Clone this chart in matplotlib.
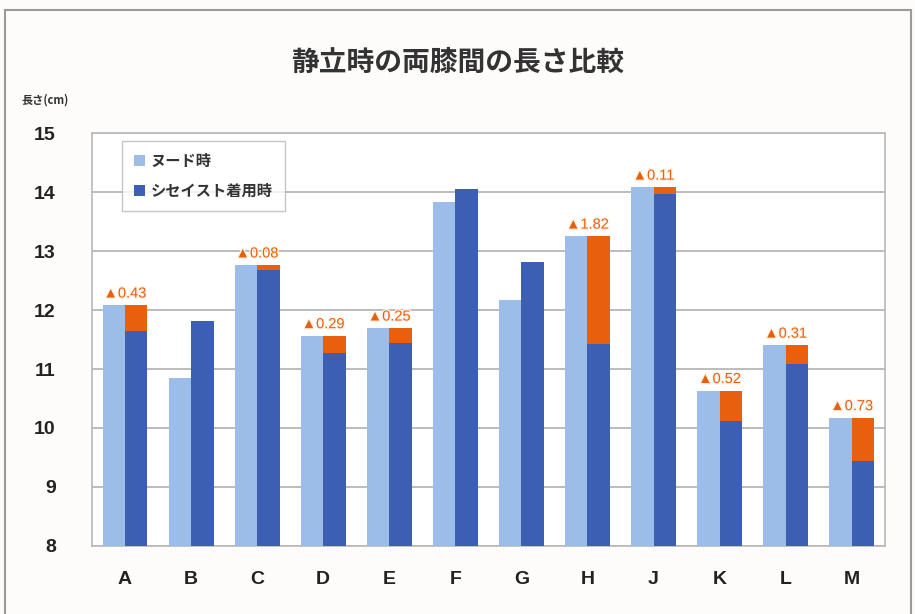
import matplotlib.pyplot as plt
import numpy as np
from matplotlib.patches import Rectangle
import matplotlib.patheffects as pe

plt.rcParams['font.family'] = ['Noto Sans CJK JP', 'DejaVu Sans']

subjects = ["A", "B", "C", "D", "E", "F", "G", "H", "J", "K", "L", "M"]
nude = [12.08, 10.85, 12.76, 11.56, 11.69, 13.83, 12.17, 13.25, 14.08, 10.63, 11.40, 10.17]
seishist = [11.65, 11.81, 12.68, 11.27, 11.44, 14.05, 12.81, 11.43, 13.97, 10.11, 11.09, 9.44]
# reduction labels shown only where the garment made the gap smaller
reduction = [0.43, None, 0.08, 0.29, 0.25, None, None, 1.82, 0.11, 0.52, 0.31, 0.73]

light = "#9dbde9"
dark = "#3c5fb4"
orange = "#e8600e"

fig = plt.figure(figsize=(9.15, 6.14), dpi=100)
fig.patch.set_facecolor("#fdfcfa")
fig.patches.append(Rectangle((0.006, -0.01), 0.99, 0.994, transform=fig.transFigure,
                             fill=False, ec="#9a9a9a", lw=1.5))

ax = fig.add_axes([0.1005, 0.111, 0.8665, 0.672])
ax.set_facecolor("white")

x = np.arange(len(subjects))
w = 0.34
ax.bar(x - w / 2, nude, w, color=light, label="ヌード時", zorder=3)
ax.bar(x + w / 2, seishist, w, color=dark, label="シセイスト着用時", zorder=3)

for i, r in enumerate(reduction):
    if r is None:
        continue
    ax.bar(x[i] + w / 2, nude[i] - seishist[i], w, bottom=seishist[i],
           color=orange, zorder=3)
    ax.text(x[i], nude[i] + 0.2, "▲%.2f" % r, ha="center", va="center",
            fontsize=10.5, color=orange, zorder=4,
            family=["Liberation Sans", "DejaVu Sans"],
            path_effects=[pe.withStroke(linewidth=2, foreground="#fff3e8")])

ax.set_ylim(8, 15)
ax.set_xlim(-0.5, len(subjects) - 0.5)
ax.set_yticks(range(8, 16))
ax.set_xticks(x)
ax.set_xticklabels(subjects)
ax.tick_params(axis="y", length=0, pad=26, labelsize=14)
ax.tick_params(axis="x", length=0, pad=18, labelsize=14)
for lab in ax.get_xticklabels() + ax.get_yticklabels():
    lab.set_fontweight("bold")
    lab.set_family("Liberation Sans")
    lab.set_color("#222222")
ax.yaxis.grid(True, color="#b0b0b0", lw=1.2, zorder=0)
for s in ax.spines.values():
    s.set_color("#b8b8b8")
    s.set_linewidth(1.2)

leg = ax.legend(loc="upper left", bbox_to_anchor=(0.028, 1.0), fontsize=11,
                frameon=True, fancybox=False, edgecolor="#b8b8b8",
                handlelength=0.7, handleheight=0.7, handletextpad=0.4,
                labelspacing=0.9, borderpad=0.8)
for t in leg.get_texts():
    t.set_fontweight("bold")
    t.set_color("#333333")

fig.text(0.5, 0.898, "静立時の両膝間の長さ比較", ha="center", va="center",
         fontsize=20, fontweight="bold", color="#333333")
fig.text(0.024, 0.837, "長さ(cm)", ha="left", va="center", fontsize=8,
         fontweight="bold", color="#333333")

fig.savefig("out.png", dpi=100, facecolor=fig.get_facecolor())
